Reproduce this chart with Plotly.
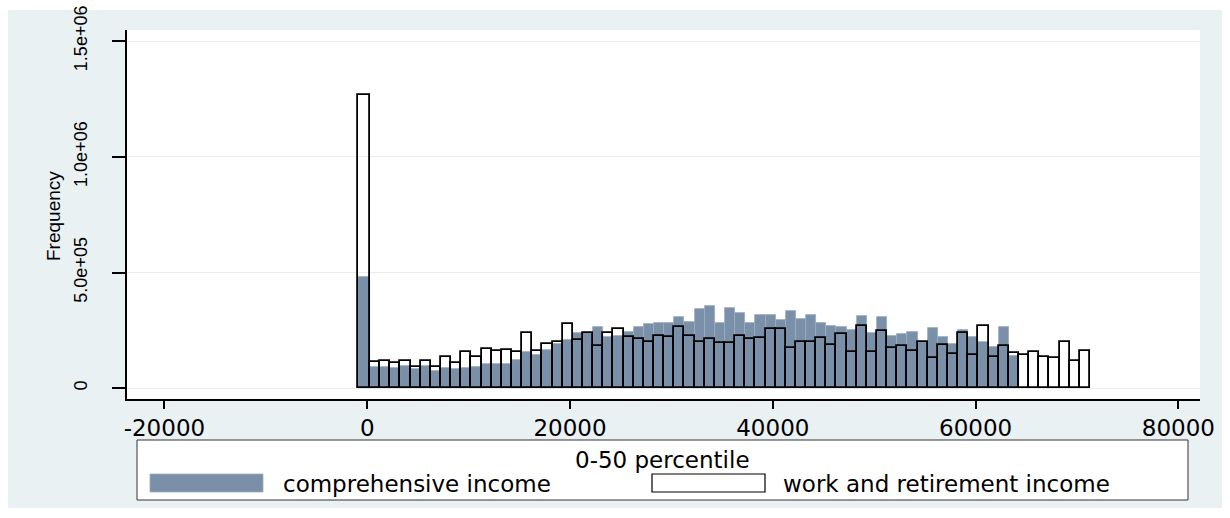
import plotly.graph_objects as go

# Histogram of income, 0-50 percentile: bin counts per 1000-unit bin
zero_bin_comprehensive = 482000
zero_bin_work = 1267000

comprehensive_income = [
    91000, 91000, 87000, 97000, 84000, 97000, 76000, 86000, 83000, 87000,
    91000, 107000, 107000, 107000, 122000, 155000, 142000, 166000, 191000, 210000,
    240000, 238000, 266000, 220000, 228000, 244000, 266000, 276000, 282000, 282000,
    308000, 286000, 342000, 356000, 280000, 346000, 326000, 280000, 316000, 316000,
    296000, 336000, 300000, 316000, 282000, 271000, 266000, 250000, 312000, 241000,
    306000, 228000, 235000, 244000, 198000, 260000, 220000, 193000, 254000, 220000,
    200000, 178000, 266000, 140000,
]

work_retirement_income = [
    112000, 116000, 110000, 116000, 93000, 120000, 94000, 135000, 110000, 156000,
    135000, 171000, 161000, 165000, 156000, 238000, 160000, 192000, 198000, 279000,
    207000, 238000, 181000, 238000, 258000, 221000, 212000, 202000, 227000, 221000,
    263000, 227000, 202000, 212000, 197000, 197000, 228000, 211000, 217000, 258000,
    258000, 176000, 198000, 198000, 217000, 186000, 234000, 158000, 269000, 158000,
    248000, 176000, 182000, 162000, 198000, 130000, 186000, 147000, 238000, 145000,
    269000, 136000, 181000, 152000, 145000, 156000, 136000, 130000, 198000, 117000,
    162000,
]

# bin layout: a wide bin holding the zero incomes, then regular bins
zero_bin_lo, zero_bin_hi = -900, 280
bin_start = 280
bin_width = 1000

x_ticks = [-20000, 0, 20000, 40000, 60000, 80000]
x_tick_labels = ["-20000", "0", "20000", "40000", "60000", "80000"]
y_ticks = [0, 500000, 1000000, 1500000]
y_tick_labels = ["0", "5.0e+05", "1.0e+06", "1.5e+06"]

legend_title = "0-50 percentile"
legend_labels = ["comprehensive income", "work and retirement income"]


def bins(counts):
    xs = [(zero_bin_lo + zero_bin_hi) / 2]
    ws = [zero_bin_hi - zero_bin_lo]
    for i in range(len(counts)):
        xs.append(bin_start + (i + 0.5) * bin_width)
        ws.append(bin_width)
    return xs, ws


W, H = 1230, 518
L, R, T, B = 127, 30, 30, 119
PW, PH = W - L - R, H - T - B


def px(x):
    return (x - L) / PW


def py(y):
    return (H - B - y) / PH


FILL = "#7a90a8"
FONT_WIDE = "DejaVu Sans"
FONT = "Liberation Sans"

fig = go.Figure()

cx, cw = bins(comprehensive_income)
fig.add_trace(go.Bar(
    x=cx, y=[zero_bin_comprehensive] + comprehensive_income, width=cw,
    marker=dict(color=FILL, line=dict(color="#9aabbe", width=0.8)),
    name=legend_labels[0], showlegend=False,
))

wx, ww = bins(work_retirement_income)
fig.add_trace(go.Bar(
    x=wx, y=[zero_bin_work] + work_retirement_income, width=ww,
    marker=dict(color="rgba(0,0,0,0)", line=dict(color="black", width=1.8)),
    name=legend_labels[1], showlegend=False,
))

shapes = [
    # graph region background
    dict(type="rect", xref="paper", yref="paper", layer="below",
         x0=px(8), x1=px(1222), y0=py(508), y1=py(10),
         fillcolor="#e9f1f3", line=dict(width=0)),
    # plot region
    dict(type="rect", xref="paper", yref="paper", layer="below",
         x0=0, x1=1, y0=0, y1=1, fillcolor="white", line=dict(width=0)),
    # legend frame
    dict(type="rect", xref="paper", yref="paper",
         x0=px(137), x1=px(1188), y0=py(500), y1=py(440),
         fillcolor="white", line=dict(color="#333333", width=1)),
    # legend keys
    dict(type="rect", xref="paper", yref="paper",
         x0=px(150), x1=px(263), y0=py(492), y1=py(474),
         fillcolor=FILL, line=dict(color="#9aabbe", width=0.8)),
    dict(type="rect", xref="paper", yref="paper",
         x0=px(652), x1=px(765), y0=py(492), y1=py(474),
         fillcolor="white", line=dict(color="black", width=1.2)),
]

annotations = [
    dict(text="Frequency", xref="paper", yref="paper", x=px(53), y=py(216),
         textangle=-90, showarrow=False, xanchor="center", yanchor="middle",
         font=dict(family=FONT, size=19, color="black")),
    dict(text=legend_title, xref="paper", yref="paper", x=px(662), y=py(460),
         showarrow=False, xanchor="center", yanchor="middle",
         font=dict(family=FONT_WIDE, size=23, color="black")),
    dict(text=legend_labels[0], xref="paper", yref="paper", x=px(281), y=py(484),
         showarrow=False, xanchor="left", yanchor="middle",
         font=dict(family=FONT_WIDE, size=23, color="black")),
    dict(text=legend_labels[1], xref="paper", yref="paper", x=px(781), y=py(484),
         showarrow=False, xanchor="left", yanchor="middle",
         font=dict(family=FONT_WIDE, size=23, color="black")),
]

fig.update_layout(
    width=W, height=H,
    margin=dict(l=L, r=R, t=T, b=B, pad=0, autoexpand=False),
    paper_bgcolor="white", plot_bgcolor="white",
    barmode="overlay", bargap=0,
    showlegend=False,
    shapes=shapes, annotations=annotations,
    xaxis=dict(
        range=[-23690, 82130], tickvals=x_ticks, ticktext=x_tick_labels,
        automargin=False,
        showgrid=False, zeroline=False,
        showline=True, linecolor="black", linewidth=1.5,
        ticks="outside", ticklen=8, tickwidth=1.5, tickcolor="black",
        tickfont=dict(family=FONT_WIDE, size=23, color="black"),
    ),
    yaxis=dict(
        range=[-46200, 1547700], tickvals=y_ticks, ticktext=y_tick_labels,
        automargin=False,
        tickangle=-90, ticklabelstandoff=18,
        showgrid=True, gridcolor="#e6eeee", gridwidth=1, zeroline=False,
        showline=True, linecolor="black", linewidth=1.5,
        ticks="outside", ticklen=13, tickwidth=1.5, tickcolor="black",
        tickfont=dict(family=FONT, size=18, color="black"),
    ),
)

fig.write_html("out.html")
